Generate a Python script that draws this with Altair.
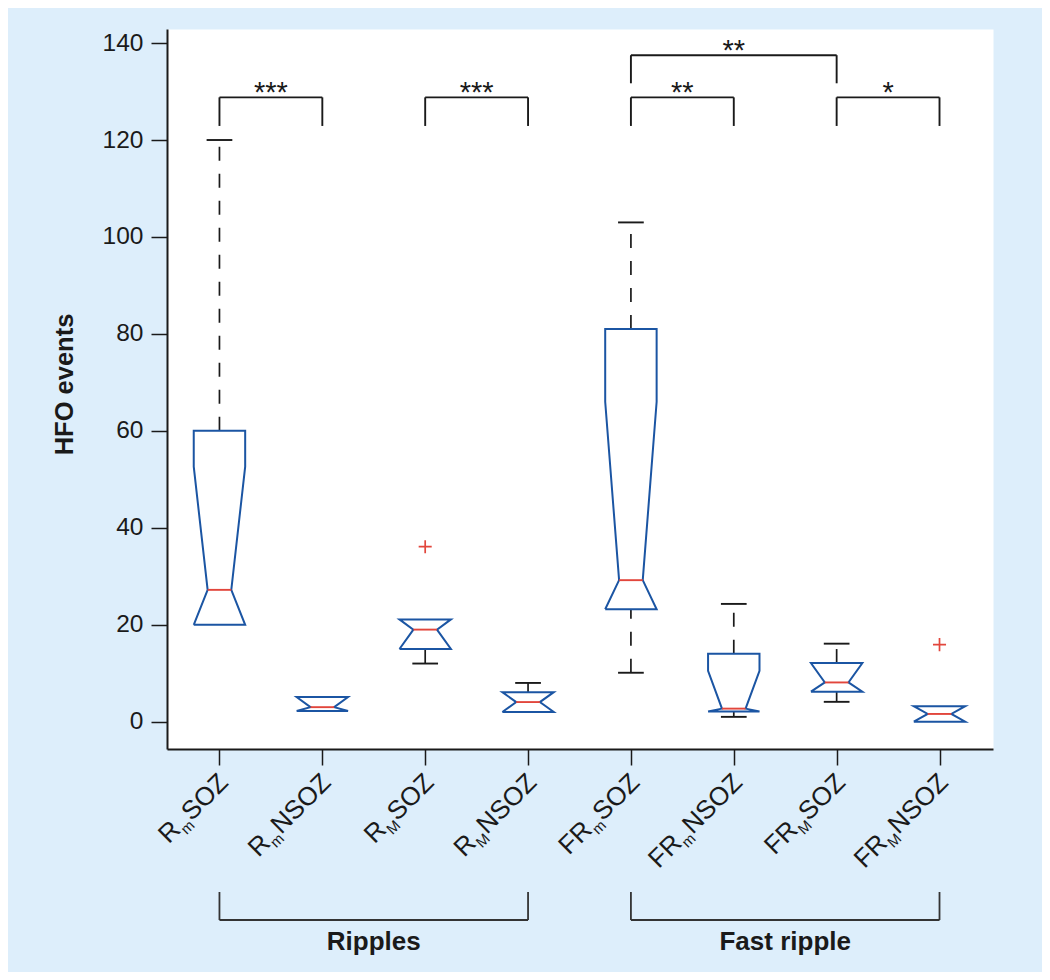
import altair as alt
import pandas as pd

# ---------------- data ----------------
positions = [1, 2, 3, 4, 5, 6, 7, 8]
label_prefix = ["R", "R", "R", "R", "FR", "FR", "FR", "FR"]
label_sub = ["m", "m", "M", "M", "m", "m", "M", "M"]
label_suffix = ["SOZ", "NSOZ", "SOZ", "NSOZ", "SOZ", "NSOZ", "SOZ", "NSOZ"]

q1 = [20.0, 2.2, 15.0, 2.0, 23.2, 2.1, 6.2, 0.0]
median = [27.2, 3.0, 19.0, 4.05, 29.2, 2.7, 8.1, 1.6]
q3 = [60.0, 5.1, 21.1, 6.1, 81.0, 14.0, 12.1, 3.2]
notch_lo = [1.8, 1.0, 13.0, 0.0, 3.0, -5.0, 4.0, -1.0]
notch_hi = [52.6, 5.8, 23.0, 8.0, 66.0, 10.5, 14.0, 4.5]
whisker_lo = [20.0, 2.2, 12.0, 2.0, 10.1, 1.0, 4.1, 0.0]
whisker_hi = [120.0, 5.1, 21.1, 8.0, 103.0, 24.3, 16.1, 3.2]

outlier_pos = [3, 8]
outlier_val = [36.1, 15.9]

sig_start = [1, 3, 5, 7, 5]
sig_end = [2, 4, 6, 8, 7]
sig_stars = ["***", "***", "**", "*", "**"]
sig_top = [128.8, 128.8, 128.8, 128.8, 137.5]
sig_leg = [122.9, 122.9, 122.9, 122.9, 131.7]

group_names = ["Ripples", "Fast ripple"]
group_start = [1, 5]
group_end = [4, 8]

y_ticks = [0, 20, 40, 60, 80, 100, 120, 140]

# ---------------- styles ----------------
FONT = "Liberation Sans"
BLUE = "#1b55a3"
RED = "#e2463c"
BLACK = "#1a1a1a"
HW, NW, CW = 0.25, 0.115, 0.125  # half widths in x units

W, H = 826, 720

# ---------------- tables ----------------
poly = []
for i, p in enumerate(positions):
    lo = max(q1[i], notch_lo[i])
    hi = min(q3[i], notch_hi[i])
    pts = [(p - HW, q1[i]), (p - HW, lo), (p - NW, median[i]), (p - HW, hi), (p - HW, q3[i]),
           (p + HW, q3[i]), (p + HW, hi), (p + NW, median[i]), (p + HW, lo), (p + HW, q1[i]),
           (p - HW, q1[i])]
    for k, (x, y) in enumerate(pts):
        poly.append({"box": i, "k": k, "x": x, "y": y})
poly_df = pd.DataFrame(poly)

stats_df = pd.DataFrame({
    "pos": positions, "q1": q1, "median": median, "q3": q3,
    "wlo": whisker_lo, "whi": whisker_hi,
    "prefix": label_prefix, "sub": label_sub, "suffix": label_suffix,
})
stats_df["ml"] = stats_df["pos"] - NW
stats_df["mr"] = stats_df["pos"] + NW
stats_df["cl"] = stats_df["pos"] - CW
stats_df["cr"] = stats_df["pos"] + CW
up_df = stats_df[stats_df["whi"] > stats_df["q3"]]
lo_df = stats_df[stats_df["wlo"] < stats_df["q1"]]

out_df = pd.DataFrame({"pos": outlier_pos, "val": outlier_val})
sig_df = pd.DataFrame({"s": sig_start, "e": sig_end, "stars": sig_stars, "top": sig_top, "leg": sig_leg})
sig_df["mid"] = (sig_df["s"] + sig_df["e"]) / 2
grp_df = pd.DataFrame({"name": group_names, "s": group_start, "e": group_end})
grp_df["mid"] = (grp_df["s"] + grp_df["e"]) / 2

# ---------------- scales / axes ----------------
xscale = alt.Scale(domain=[0.49, 8.52], nice=False, zero=False)
yscale = alt.Scale(domain=[-5.63, 142.9], nice=False, zero=False)
xaxis = alt.Axis(values=positions, labels=False, tickSize=16, tickColor=BLACK, tickWidth=1.5,
                 domainColor=BLACK, domainWidth=2, grid=False, title="")
yaxis = alt.Axis(values=y_ticks, tickSize=16, tickColor=BLACK, tickWidth=1.5,
                 domainColor=BLACK, domainWidth=2, grid=False, labelFont=FONT, labelFontSize=24.5,
                 labelColor=BLACK, labelPadding=8, title="HFO events", titleFont=FONT,
                 titleFontSize=25.5, titleFontWeight="bold", titleColor=BLACK, titleAngle=270,
                 titleX=-95, titleY=355, titleAlign="center", titleBaseline="alphabetic")


def X(f):
    return alt.X(f, type="quantitative", scale=xscale, axis=xaxis)


def Y(f):
    return alt.Y(f, type="quantitative", scale=yscale, axis=yaxis)


# ---------------- layers ----------------
up_whisk = alt.Chart(up_df).mark_rule(color=BLACK, strokeWidth=1.7, strokeDash=[14, 13]).encode(
    x=X("pos"), y=Y("q3"), y2="whi")
lo_whisk = alt.Chart(lo_df).mark_rule(color=BLACK, strokeWidth=1.7, strokeDash=[14, 13]).encode(
    x=X("pos"), y=Y("wlo"), y2="q1")
up_cap = alt.Chart(up_df).mark_rule(color=BLACK, strokeWidth=1.9).encode(
    x=X("cl"), x2="cr", y=Y("whi"))
lo_cap = alt.Chart(lo_df).mark_rule(color=BLACK, strokeWidth=1.9).encode(
    x=X("cl"), x2="cr", y=Y("wlo"))

boxes = alt.Chart(poly_df).mark_line(color=BLUE, strokeWidth=2, strokeJoin="miter").encode(
    x=X("x"), y=Y("y"), detail="box:N", order=alt.Order("k:Q"))

medians = alt.Chart(stats_df).mark_rule(color=RED, strokeWidth=1.9).encode(
    x=X("ml"), x2="mr", y=Y("median"))

outliers = alt.Chart(out_df).mark_point(
    shape="M-1,0L1,0M0,-1L0,1", size=170, filled=False, color=RED, strokeWidth=1.7, opacity=1
).encode(x=X("pos"), y=Y("val"))

# significance brackets
sig_h = alt.Chart(sig_df).mark_rule(color=BLACK, strokeWidth=1.9).encode(
    x=X("s"), x2="e", y=Y("top"))
sig_l = alt.Chart(sig_df).mark_rule(color=BLACK, strokeWidth=1.9).encode(
    x=X("s"), y=Y("leg"), y2="top")
sig_r = alt.Chart(sig_df).mark_rule(color=BLACK, strokeWidth=1.9).encode(
    x=X("e"), y=Y("leg"), y2="top")
sig_t = alt.Chart(sig_df).mark_text(font=FONT, fontSize=29, color=BLACK, baseline="alphabetic",
                                    align="center", dy=5).encode(
    x=X("mid"), y=Y("top"), text="stars:N")

# rotated x labels with subscripts
LABEL_Y = 755
FS, SFS = 26, 15
w_soz = (0.667 + 0.778 + 0.611) * FS
w_nsoz = w_soz + 0.722 * FS
w_sub = 0.833 * SFS
d0 = 7.07
labels = []
for suffix, wsuf in (("SOZ", w_soz), ("NSOZ", w_nsoz)):
    base = alt.Chart(stats_df).transform_filter(alt.datum.suffix == suffix)
    labels.append(base.mark_text(font=FONT, fontSize=FS, color=BLACK, angle=315, align="right",
                                 baseline="alphabetic", dx=d0, dy=d0).encode(
        x=X("pos"), y=alt.value(LABEL_Y), text="suffix:N"))
    labels.append(base.mark_text(font=FONT, fontSize=SFS, color=BLACK, angle=315, align="right",
                                 baseline="alphabetic", dx=d0 - wsuf - 0.5, dy=d0 + 6).encode(
        x=X("pos"), y=alt.value(LABEL_Y), text="sub:N"))
    labels.append(base.mark_text(font=FONT, fontSize=FS, color=BLACK, angle=315, align="right",
                                 baseline="alphabetic", dx=d0 - wsuf - w_sub - 1.0, dy=d0).encode(
        x=X("pos"), y=alt.value(LABEL_Y), text="prefix:N"))

# group brackets below axis
grp_h = alt.Chart(grp_df).mark_rule(color="#333333", strokeWidth=1.8).encode(
    x=X("s"), x2="e", y=alt.value(891))
grp_l = alt.Chart(grp_df).mark_rule(color="#333333", strokeWidth=1.8).encode(
    x=X("s"), y=alt.value(863), y2=alt.value(891))
grp_r = alt.Chart(grp_df).mark_rule(color="#333333", strokeWidth=1.8).encode(
    x=X("e"), y=alt.value(863), y2=alt.value(891))
grp_t = alt.Chart(grp_df).mark_text(font=FONT, fontSize=26, fontWeight="bold", color=BLACK,
                                    baseline="alphabetic", align="center").encode(
    x=X("mid"), y=alt.value(921), text="name:N")

chart = alt.layer(
    up_whisk, lo_whisk, up_cap, lo_cap, boxes, medians, outliers,
    sig_h, sig_l, sig_r, sig_t, *labels, grp_h, grp_l, grp_r, grp_t
).properties(
    width=W, height=H,
    autosize=alt.AutoSizeParams(type="none"),
    padding={"left": 159, "top": 21, "right": 49, "bottom": 223},
).configure(
    background="#ddeefb"
).configure_view(
    fill="white", stroke="transparent"
)

chart.save("out.html", embed_options={"renderer": "svg", "actions": False})
